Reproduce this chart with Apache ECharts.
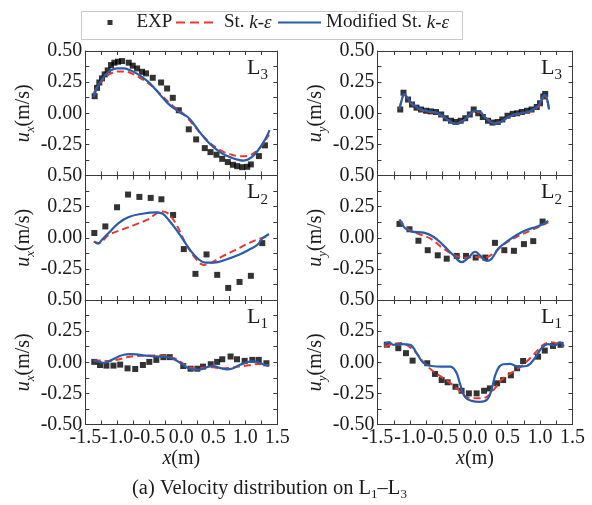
<!DOCTYPE html>
<html>
<head>
<meta charset="utf-8">
<script src="https://cdn.jsdelivr.net/npm/echarts/dist/echarts.min.js"></script>
<style>
  html, body { margin: 0; padding: 0; background: #ffffff; }
  #chart { width: 592px; height: 505px; }
</style>
</head>
<body>
<div id="chart"></div>
<script>
// Velocity profiles u_x / u_y along survey lines L3, L2, L1 (top to bottom)
const lineIds = ['3', '2', '1'];
const xRange = [-1.5, 1.5];
const xStep = 0.5;
const yRange = [-0.5, 0.5];
const yStep = 0.25;
const seriesNames = ['EXP', 'St. k-ε', 'Modified St. k-ε'];

// ---- u_x, line L3 ----
const uxL3Exp = [[-1.354,0.137],[-1.317,0.204],[-1.281,0.247],[-1.239,0.280],[-1.197,0.312],[-1.150,0.344],
  [-1.098,0.387],[-1.046,0.406],[-0.989,0.414],[-0.926,0.419],[-0.822,0.406],[-0.759,0.382],[-0.691,0.360],
  [-0.613,0.333],[-0.551,0.320],[-0.446,0.285],[-0.316,0.247],[-0.222,0.199],[-0.133,0.124],[-0.039,0.024],
  [0.117,-0.129],[0.232,-0.210],[0.367,-0.280],[0.456,-0.312],[0.550,-0.333],[0.639,-0.366],[0.727,-0.392],
  [0.806,-0.414],[0.873,-0.425],[0.952,-0.433],[1.030,-0.430],[1.087,-0.411],[1.213,-0.344],[1.307,-0.258]];
const uxL3Std = [[-1.37,0.16],[-1.3,0.22],[-1.2,0.285],[-1.1,0.32],[-1.0,0.335],[-0.9,0.335],[-0.8,0.325],
  [-0.7,0.30],[-0.6,0.27],[-0.5,0.235],[-0.4,0.19],[-0.3,0.14],[-0.2,0.09],[-0.1,0.045],[0.0,0.01],[0.1,-0.04],
  [0.2,-0.10],[0.3,-0.16],[0.4,-0.215],[0.5,-0.26],[0.6,-0.295],[0.7,-0.32],[0.8,-0.335],[0.9,-0.345],
  [1.0,-0.345],[1.1,-0.33],[1.2,-0.295],[1.3,-0.23],[1.37,-0.17]];
const uxL3Mod = [[-1.37,0.13],[-1.3,0.22],[-1.2,0.30],[-1.1,0.345],[-1.0,0.36],[-0.9,0.36],[-0.8,0.345],
  [-0.7,0.32],[-0.6,0.285],[-0.5,0.245],[-0.4,0.19],[-0.3,0.13],[-0.2,0.075],[-0.1,0.035],[0.0,0.0],[0.1,-0.03],
  [0.2,-0.09],[0.3,-0.16],[0.4,-0.22],[0.5,-0.27],[0.6,-0.31],[0.7,-0.34],[0.8,-0.36],[0.9,-0.375],
  [0.97,-0.38],[1.05,-0.37],[1.15,-0.33],[1.25,-0.26],[1.32,-0.20],[1.38,-0.135]];

// ---- u_x, line L2 ----
const uxL2Exp = [[-1.359,0.038],[-1.187,0.091],[-1.004,0.245],[-0.832,0.347],[-0.655,0.328],[-0.478,0.320],
  [-0.311,0.309],[-0.128,0.183],[0.039,-0.091],[0.221,-0.290],[0.394,-0.134],[0.561,-0.298],[0.733,-0.403],
  [0.910,-0.355],[1.087,-0.306],[1.265,-0.043]];
const uxL2Std = [[-1.37,-0.03],[-1.29,-0.043],[-1.13,0.024],[-0.93,0.065],[-0.72,0.105],[-0.51,0.15],
  [-0.32,0.21],[-0.22,0.20],[-0.09,0.118],[0.065,-0.043],[0.22,-0.164],[0.35,-0.218],[0.46,-0.204],
  [0.64,-0.15],[0.85,-0.097],[1.056,-0.043],[1.21,-0.01],[1.38,0.016]];
const uxL2Mod = [[-1.354,-0.03],[-1.30,-0.048],[-1.24,-0.016],[-1.135,0.038],[-0.98,0.118],[-0.82,0.167],
  [-0.61,0.193],[-0.40,0.204],[-0.30,0.194],[-0.20,0.145],[-0.04,0.038],[0.117,-0.083],[0.25,-0.164],
  [0.38,-0.199],[0.51,-0.199],[0.69,-0.177],[0.90,-0.137],[1.056,-0.097],[1.19,-0.056],[1.27,-0.003],
  [1.31,0.011],[1.37,0.03]];

// ---- u_x, line L1 ----
const uxL1Exp = [[-1.36,0.003],[-1.27,-0.022],[-1.17,-0.027],[-1.06,-0.027],[-0.955,-0.019],[-0.84,-0.049],
  [-0.72,-0.054],[-0.60,-0.022],[-0.50,0.003],[-0.39,0.019],[-0.28,0.041],[-0.18,0.041],[0.03,-0.030],
  [0.145,-0.052],[0.25,-0.052],[0.34,-0.035],[0.46,-0.016],[0.56,0.003],[0.64,0.024],[0.77,0.046],
  [0.87,0.024],[0.99,0.011],[1.11,0.019],[1.21,0.019],[1.33,-0.008]];
const uxL1Std = [[-1.37,0.015],[-1.25,0.015],[-1.15,0.01],[-1.0,0.02],[-0.85,0.04],[-0.7,0.05],[-0.55,0.055],
  [-0.4,0.055],[-0.25,0.05],[-0.1,0.03],[0.0,0.0],[0.1,-0.035],[0.25,-0.05],[0.4,-0.04],[0.5,-0.04],
  [0.6,-0.05],[0.75,-0.045],[0.9,-0.035],[1.05,-0.025],[1.2,-0.015],[1.37,-0.025]];
const uxL1Mod = [[-1.37,0.01],[-1.3,0.005],[-1.2,-0.005],[-1.1,0.015],[-1.0,0.04],[-0.9,0.06],[-0.8,0.065],
  [-0.7,0.063],[-0.6,0.055],[-0.5,0.05],[-0.4,0.047],[-0.3,0.045],[-0.2,0.04],[-0.1,0.02],[0.0,-0.01],
  [0.1,-0.045],[0.2,-0.06],[0.3,-0.058],[0.4,-0.04],[0.5,-0.03],[0.6,-0.045],[0.7,-0.057],[0.8,-0.05],
  [0.9,-0.025],[1.0,-0.005],[1.1,0.008],[1.2,0.0],[1.3,-0.02],[1.37,-0.03]];

// ---- u_y, line L3 ----
const uyL3Exp = [[-1.15,0.03],[-1.10,0.165],[-1.03,0.11],[-0.97,0.07],[-0.90,0.045],[-0.83,0.03],[-0.75,0.02],
  [-0.68,0.015],[-0.60,0.01],[-0.52,-0.01],[-0.45,-0.04],[-0.37,-0.06],[-0.30,-0.07],[-0.22,-0.06],
  [-0.15,-0.04],[-0.08,-0.01],[-0.02,0.03],[0.05,0.0],[0.12,-0.03],[0.20,-0.06],[0.27,-0.075],[0.35,-0.07],
  [0.42,-0.05],[0.50,-0.02],[0.58,-0.005],[0.65,0.0],[0.72,0.01],[0.80,0.02],[0.87,0.03],[0.95,0.05],
  [1.00,0.08],[1.05,0.135],[1.08,0.155]];
const uyL3Std = [[-1.16,0.04],[-1.12,0.12],[-1.09,0.145],[-1.06,0.135],[-1.0,0.09],[-0.9,0.045],[-0.8,0.02],
  [-0.7,0.01],[-0.6,0.0],[-0.5,-0.025],[-0.4,-0.06],[-0.3,-0.08],[-0.2,-0.065],[-0.1,-0.02],[0.0,0.015],
  [0.07,0.01],[0.15,-0.03],[0.25,-0.07],[0.32,-0.08],[0.4,-0.065],[0.5,-0.035],[0.6,-0.015],[0.7,-0.005],
  [0.8,0.005],[0.9,0.025],[1.0,0.07],[1.07,0.14],[1.1,0.125],[1.14,0.03]];
const uyL3Mod = [[-1.16,0.03],[-1.12,0.12],[-1.09,0.155],[-1.06,0.14],[-1.0,0.095],[-0.9,0.05],[-0.8,0.025],
  [-0.7,0.015],[-0.6,0.005],[-0.5,-0.02],[-0.4,-0.06],[-0.3,-0.085],[-0.2,-0.07],[-0.1,-0.02],[0.0,0.02],
  [0.07,0.015],[0.15,-0.03],[0.25,-0.075],[0.32,-0.085],[0.4,-0.07],[0.5,-0.035],[0.6,-0.01],[0.7,0.0],
  [0.8,0.01],[0.9,0.03],[1.0,0.08],[1.07,0.15],[1.1,0.13],[1.14,0.03]];

// ---- u_y, line L2 ----
const uyL2Exp = [[-1.162,0.111],[-1.008,0.068],[-0.870,-0.024],[-0.727,-0.100],[-0.573,-0.141],
  [-0.435,-0.168],[-0.281,-0.146],[-0.138,-0.146],[0.010,-0.159],[0.159,-0.159],[0.307,-0.041],
  [0.451,-0.100],[0.599,-0.105],[0.753,-0.051],[0.896,-0.027],[1.040,0.130]];
const uyL2Std = [[-1.162,0.149],[-1.05,0.076],[-0.89,0.035],[-0.69,-0.005],[-0.49,-0.086],[-0.28,-0.149],
  [-0.13,-0.16],[0.0,-0.154],[0.15,-0.16],[0.28,-0.127],[0.43,-0.059],[0.64,0.008],[0.85,0.057],
  [1.05,0.103],[1.127,0.124]];
const uyL2Mod = [[-1.162,0.143],[-1.075,0.076],[-0.97,0.049],[-0.79,0.041],[-0.64,0.008],[-0.49,-0.059],
  [-0.33,-0.141],[-0.205,-0.195],[-0.10,-0.159],[0.0,-0.114],[0.077,-0.141],[0.18,-0.186],[0.256,-0.168],
  [0.36,-0.086],[0.49,-0.032],[0.64,0.022],[0.79,0.062],[0.95,0.089],[1.05,0.111],[1.127,0.135]];

// ---- u_y, line L1 ----
const uyL1Exp = [[-1.357,0.141],[-1.18,0.113],[-1.062,0.073],[-0.96,0.013],[-0.735,-0.008],[-0.616,-0.094],
  [-0.513,-0.143],[-0.421,-0.161],[-0.30,-0.197],[-0.206,-0.229],[-0.094,-0.25],[0.025,-0.25],[0.14,-0.229],
  [0.229,-0.21],[0.34,-0.169],[0.433,-0.143],[0.552,-0.105],[0.648,-0.048],[0.74,0.01],[0.97,0.045],
  [1.074,0.094],[1.20,0.131],[1.316,0.14]];
const uyL1Std = [[-1.395,0.127],[-1.15,0.155],[-0.95,0.10],[-0.8,0.005],[-0.64,-0.075],[-0.44,-0.143],
  [-0.28,-0.21],[-0.13,-0.278],[0.02,-0.29],[0.18,-0.278],[0.305,-0.21],[0.43,-0.13],[0.59,-0.075],
  [0.74,-0.02],[0.9,0.06],[1.05,0.14],[1.18,0.16],[1.36,0.127]];
const uyL1Mod = [[-1.395,0.14],[-1.323,0.162],[-1.257,0.14],[-1.129,0.146],[-1.0,0.14],[-0.898,0.073],
  [-0.796,-0.003],[-0.668,-0.03],[-0.514,-0.035],[-0.386,-0.035],[-0.294,-0.075],[-0.232,-0.17],
  [-0.155,-0.278],[-0.053,-0.31],[0.075,-0.318],[0.188,-0.299],[0.255,-0.218],[0.332,-0.075],
  [0.434,-0.016],[0.536,-0.013],[0.664,-0.035],[0.792,-0.03],[0.92,0.032],[1.023,0.113],[1.125,0.146],
  [1.228,0.135],[1.305,0.159],[1.366,0.127]];

// panels in grid order: left column (u_x) L3, L2, L1, then right column (u_y) L3, L2, L1
const panels = [
  { comp: 'x', line: 0, exp: uxL3Exp, std: uxL3Std, mod: uxL3Mod },
  { comp: 'x', line: 1, exp: uxL2Exp, std: uxL2Std, mod: uxL2Mod },
  { comp: 'x', line: 2, exp: uxL1Exp, std: uxL1Std, mod: uxL1Mod },
  { comp: 'y', line: 0, exp: uyL3Exp, std: uyL3Std, mod: uyL3Mod },
  { comp: 'y', line: 1, exp: uyL2Exp, std: uyL2Std, mod: uyL2Mod },
  { comp: 'y', line: 2, exp: uyL1Exp, std: uyL1Std, mod: uyL1Mod }
];

const FONT = '"Liberation Serif", "Times New Roman", serif';
const INK = '#1a1a1a';
const AXIS = '#3a3a3a';
const RED = '#e8392f';
const BLUE = '#2b5caa';

const colLeft = [85.3, 377.5];
const colWidth = [192, 195];
const rowTop = [51, 175.5, 300];
const rowHeight = 124.5;

const richBase = {
  n: { fontFamily: FONT, fontSize: 20, lineHeight: 26, color: INK, fontWeight: 'normal' },
  i: { fontFamily: FONT, fontSize: 20, lineHeight: 26, color: INK, fontStyle: 'italic', fontWeight: 'normal' },
  s: { fontFamily: FONT, fontSize: 13, lineHeight: 14, color: INK, fontStyle: 'italic', fontWeight: 'normal', verticalAlign: 'bottom' }
};

const grids = [], xAxes = [], yAxes = [], series = [], titles = [];

const tickStyle = { color: AXIS, width: 1 };

panels.forEach((p, gi) => {
  const col = p.comp === 'x' ? 0 : 1;
  const row = p.line;
  const isBottom = row === 2;
  grids.push({
    left: colLeft[col], top: rowTop[row], width: colWidth[col], height: rowHeight,
    outerBoundsMode: 'none', containLabel: false
  });

  const xCommon = {
    gridIndex: gi, type: 'value', min: xRange[0], max: xRange[1], interval: xStep,
    axisLine: { show: true, onZero: false, lineStyle: { color: AXIS, width: 1 } },
    axisTick: { show: true, inside: true, length: 4, lineStyle: tickStyle },
    minorTick: { show: true, splitNumber: 2, length: 4, lineStyle: tickStyle },
    splitLine: { show: false }, minorSplitLine: { show: false }
  };
  xAxes.push(Object.assign({}, xCommon, {
    position: 'bottom',
    axisLabel: {
      show: isBottom, fontFamily: FONT, fontSize: 20, color: INK, margin: 3,
      showMinLabel: true, showMaxLabel: true,
      formatter: v => v.toFixed(1)
    },
    name: isBottom ? '{i|x}{n|(m)}' : '',
    nameLocation: 'middle', nameGap: 19,
    nameTextStyle: { rich: richBase }
  }));
  xAxes.push(Object.assign({}, xCommon, { position: 'top', axisLabel: { show: false } }));

  const yCommon = {
    gridIndex: gi, type: 'value', min: yRange[0], max: yRange[1], interval: yStep,
    axisLine: { show: true, onZero: false, lineStyle: { color: AXIS, width: 1 } },
    axisTick: { show: true, inside: true, length: 4, lineStyle: tickStyle },
    minorTick: { show: true, splitNumber: 2, length: 4, lineStyle: tickStyle },
    splitLine: { show: false }, minorSplitLine: { show: false }
  };
  yAxes.push(Object.assign({}, yCommon, {
    position: 'left',
    axisLabel: {
      show: true, fontFamily: FONT, fontSize: 20, color: INK, margin: 3,
      showMinLabel: isBottom, showMaxLabel: true,
      formatter: v => v.toFixed(2)
    },
    name: '{i|u}{s|' + p.comp + '}{n|(m/s)}',
    nameLocation: 'middle', nameGap: 46, nameRotate: 90,
    nameTextStyle: { rich: richBase }
  }));
  yAxes.push(Object.assign({}, yCommon, { position: 'right', axisLabel: { show: false } }));

  series.push({
    name: seriesNames[0], type: 'scatter', xAxisIndex: 2 * gi, yAxisIndex: 2 * gi,
    data: p.exp, symbol: 'rect', symbolSize: 6, itemStyle: { color: '#000000' }, z: 2, silent: true
  });
  series.push({
    name: seriesNames[1], type: 'line', xAxisIndex: 2 * gi, yAxisIndex: 2 * gi,
    data: p.std, symbol: 'none', showSymbol: false, smooth: 0.35,
    lineStyle: { color: RED, width: 2, type: [7, 4] }, itemStyle: { color: RED }, z: 3, silent: true
  });
  series.push({
    name: seriesNames[2], type: 'line', xAxisIndex: 2 * gi, yAxisIndex: 2 * gi,
    data: p.mod, symbol: 'none', showSymbol: false, smooth: 0.45,
    lineStyle: { color: BLUE, width: 2.2 }, itemStyle: { color: BLUE }, z: 4, silent: true
  });

  // line tag in the upper-right corner of each panel
  titles.push({
    text: '{L|L}{t|' + lineIds[row] + '}',
    right: col === 0 ? 324 : 30,
    top: rowTop[row] + 2,
    padding: 0,
    textStyle: {
      fontWeight: 'normal',
      rich: {
        L: { fontFamily: FONT, fontSize: 22, lineHeight: 30, color: INK, fontWeight: 'normal' },
        t: { fontFamily: FONT, fontSize: 15, lineHeight: 16, color: INK, fontWeight: 'normal', verticalAlign: 'bottom' }
      }
    }
  });
});

// caption
titles.push({
  text: '{n|(a) Velocity distribution on L}{s|1}{n|–L}{s|3}',
  left: 132, top: 477, padding: 0,
  textStyle: {
    fontWeight: 'normal',
    rich: {
      n: { fontFamily: FONT, fontSize: 20.5, lineHeight: 24, color: INK, fontWeight: 'normal' },
      s: { fontFamily: FONT, fontSize: 13, lineHeight: 16, color: INK, fontWeight: 'normal', verticalAlign: 'bottom' }
    }
  }
});

// legend glyphs drawn inside a 43x5 box (tiny corner points keep the box extent)
const boxCorners = 'M0,0H0.01V0.01H0Z M42.99,4.99H43V5H42.99Z ';
const iconDashed = 'path://' + boxCorners + 'M0,1.5H9V3.5H0Z M14,1.5H23V3.5H14Z M28,1.5H37V3.5H28Z';
const iconSolid = 'path://' + boxCorners + 'M0,1.4H43V3.6H0Z';

const legendRich = {
  n: { fontFamily: FONT, fontSize: 19, lineHeight: 20, color: INK },
  e: { fontFamily: FONT, fontSize: 19, lineHeight: 20, color: INK, padding: [0, 0, 0, 19] },
  i: { fontFamily: FONT, fontSize: 19, lineHeight: 20, color: INK, fontStyle: 'italic' }
};
const legendLabel = name => {
  if (name === 'EXP') return '{e|EXP}';
  return '{n|' + name.replace('k-ε', '') + '}{i|k-ε}';
};
const legendBase = {
  top: 13, orient: 'horizontal', padding: 0,
  itemHeight: 5, itemGap: 5, selectedMode: false, symbolKeepAspect: true,
  formatter: legendLabel, textStyle: { rich: legendRich }
};

const option = {
  animation: false,
  backgroundColor: '#ffffff',
  title: titles,
  legend: [
    Object.assign({}, legendBase, {
      left: 107.5, itemWidth: 5,
      data: [{ name: seriesNames[0], icon: 'rect', itemStyle: { color: '#000000' } }]
    }),
    Object.assign({}, legendBase, {
      left: 176, itemWidth: 43,
      data: [{ name: seriesNames[1], icon: iconDashed, itemStyle: { color: RED } }]
    }),
    Object.assign({}, legendBase, {
      left: 278, itemWidth: 43,
      data: [{ name: seriesNames[2], icon: iconSolid, itemStyle: { color: BLUE } }]
    })
  ],
  // frame around the legend entries
  graphic: [{
    type: 'rect', left: 79, top: 9, silent: true,
    shape: { width: 381, height: 28 },
    style: { fill: 'none', stroke: '#c8c8c8', lineWidth: 1 }
  }],
  grid: grids,
  xAxis: xAxes,
  yAxis: yAxes,
  series: series
};

const chart = echarts.init(document.getElementById('chart'), null, { renderer: 'canvas' });
chart.setOption(option);
</script>
</body>
</html>
